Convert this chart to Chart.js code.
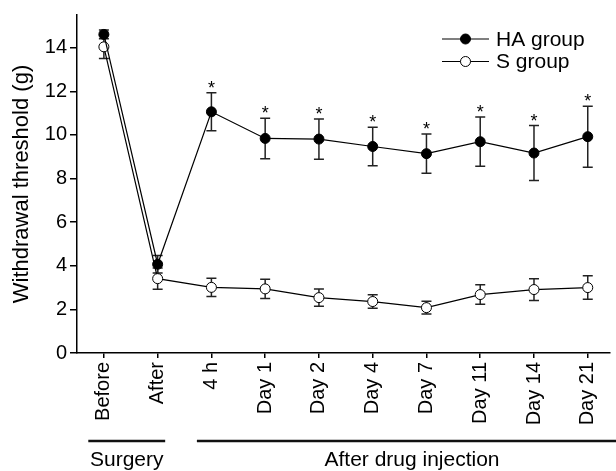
<!DOCTYPE html>
<html>
<head>
<meta charset="utf-8">
<script src="https://cdn.jsdelivr.net/npm/chart.js@4.4.1/dist/chart.umd.min.js"></script>
<style>
  html, body { margin: 0; padding: 0; background: #ffffff; }
  #wrap { width: 616px; height: 471px; }
</style>
</head>
<body>
<div id="wrap"><canvas id="c" width="616" height="471"></canvas></div>
<script>
const categories = ['Before', 'After', '4 h', 'Day 1', 'Day 2', 'Day 4', 'Day 7', 'Day 11', 'Day 14', 'Day 21'];
const haMean = [14.61, 4.07, 11.06, 9.84, 9.81, 9.47, 9.14, 9.69, 9.17, 9.92];
const haErr  = [0.20, 0.40, 0.87, 0.93, 0.92, 0.88, 0.90, 1.13, 1.26, 1.40];
const sMean  = [14.04, 3.41, 3.01, 2.94, 2.54, 2.36, 2.08, 2.68, 2.91, 3.00];
const sErr   = [0.53, 0.49, 0.42, 0.44, 0.40, 0.31, 0.29, 0.45, 0.50, 0.54];
const haSig  = [false, false, true, true, true, true, true, true, true, true];
const yTicks = [0, 2, 4, 6, 8, 10, 12, 14];
const groupNames = ['Surgery', 'After drug injection'];
const groupFrom = [-0.29, 1.73];
const groupTo = [1.14, 9.6];

const FONT = "'Liberation Sans', Arial, Helvetica, sans-serif";

const errBarPlugin = {
  id: 'errBars',
  beforeDatasetsDraw(chart) {
    const ctx = chart.ctx, xs = chart.scales.x, ys = chart.scales.y;
    const sets = [[haMean, haErr], [sMean, sErr]];
    ctx.save();
    ctx.strokeStyle = '#222';
    ctx.lineWidth = 1.5;
    sets.forEach(([m, e]) => {
      m.forEach((v, i) => {
        const x = xs.getPixelForValue(i);
        const yt = ys.getPixelForValue(v + e[i]);
        const yb = ys.getPixelForValue(v - e[i]);
        ctx.beginPath();
        ctx.moveTo(x, yt); ctx.lineTo(x, yb);
        ctx.moveTo(x - 5, yt); ctx.lineTo(x + 5, yt);
        ctx.moveTo(x - 5, yb); ctx.lineTo(x + 5, yb);
        ctx.stroke();
      });
    });
    ctx.restore();
  },
  afterDatasetsDraw(chart) {
    const ctx = chart.ctx, xs = chart.scales.x, ys = chart.scales.y;
    ctx.save();
    // significance asterisks
    ctx.fillStyle = '#000';
    ctx.font = '18px ' + FONT;
    ctx.textAlign = 'center';
    ctx.textBaseline = 'alphabetic';
    const mt = ctx.measureText('*');
    const midOff = (mt.actualBoundingBoxAscent - mt.actualBoundingBoxDescent) / 2;
    haSig.forEach((s, i) => {
      if (!s) return;
      const x = xs.getPixelForValue(i);
      const yt = ys.getPixelForValue(haMean[i] + haErr[i]);
      ctx.fillText('*', x, yt - 8.5 + midOff);
    });
    // legend
    const items = chart.data.datasets;
    ctx.font = '21px ' + FONT;
    ctx.textAlign = 'left';
    ctx.textBaseline = 'middle';
    items.forEach((ds, k) => {
      const y = 39 + k * 22.5;
      ctx.strokeStyle = '#000';
      ctx.lineWidth = 1.2;
      ctx.beginPath(); ctx.moveTo(442, y); ctx.lineTo(489, y); ctx.stroke();
      ctx.beginPath(); ctx.arc(465.5, y, ds.pointRadius, 0, Math.PI * 2);
      ctx.fillStyle = ds.pointBackgroundColor; ctx.fill();
      ctx.lineWidth = 1; ctx.stroke();
      ctx.fillStyle = '#000';
      ctx.fillText(ds.label, 496, y + 1);
    });
    ctx.restore();
  },
  afterDraw(chart) {
    const ctx = chart.ctx, xs = chart.scales.x;
    ctx.save();
    ctx.strokeStyle = '#111';
    ctx.fillStyle = '#000';
    ctx.lineWidth = 2.5;
    ctx.font = '21px ' + FONT;
    ctx.textAlign = 'center';
    ctx.textBaseline = 'middle';
    groupNames.forEach((g, k) => {
      const x1 = xs.getPixelForValue(groupFrom[k]);
      const x2 = Math.min(xs.getPixelForValue(groupTo[k]), chart.width);
      ctx.beginPath(); ctx.moveTo(x1, 441); ctx.lineTo(x2, 441); ctx.stroke();
    });
    ctx.fillText(groupNames[0], (xs.getPixelForValue(groupFrom[0]) + xs.getPixelForValue(groupTo[0])) / 2, 460);
    ctx.fillText(groupNames[1], 412, 460);
    ctx.restore();
  }
};

new Chart(document.getElementById('c'), {
  type: 'line',
  data: {
    datasets: [
      {
        label: 'HA group',
        data: haMean.map((v, i) => ({ x: i, y: v })),
        borderColor: '#000', borderWidth: 1.2,
        pointRadius: 5, pointBackgroundColor: '#000', pointBorderColor: '#000', pointBorderWidth: 1,
        tension: 0
      },
      {
        label: 'S group',
        data: sMean.map((v, i) => ({ x: i, y: v })),
        borderColor: '#000', borderWidth: 1.2,
        pointRadius: 5, pointBackgroundColor: '#fff', pointBorderColor: '#000', pointBorderWidth: 1,
        tension: 0
      }
    ]
  },
  options: {
    responsive: false,
    animation: false,
    events: [],
    layout: { padding: { left: 0, right: 0, top: 13, bottom: 0 } },
    plugins: { legend: { display: false }, tooltip: { enabled: false } },
    scales: {
      x: {
        type: 'linear',
        min: -0.5,
        max: 9.41,
        afterBuildTicks(scale) { scale.ticks = categories.map((_, i) => ({ value: i })); },
        afterFit(scale) { scale.height = 118; },
        ticks: {
          autoSkip: false,
          minRotation: 90, maxRotation: 90,
          color: '#000',
          padding: 4,
          font: { size: 20, family: FONT },
          callback: (v) => categories[v]
        },
        grid: { drawOnChartArea: false, drawTicks: true, tickLength: 5, color: '#000', lineWidth: 1.5 },
        border: { display: true, color: '#000', width: 1.5 }
      },
      y: {
        min: 0,
        max: 15.5,
        afterBuildTicks(scale) { scale.ticks = yTicks.map(v => ({ value: v })); },
        afterFit(scale) { scale.width = 77; },
        ticks: { color: '#000', padding: 3, font: { size: 20, family: FONT } },
        grid: { drawOnChartArea: false, drawTicks: true, tickLength: 7, color: '#000', lineWidth: 1.5 },
        border: { display: true, color: '#000', width: 1.5 },
        title: {
          display: true,
          text: 'Withdrawal threshold (g)',
          color: '#000',
          font: { size: 22, family: FONT },
          padding: { top: 9, bottom: 0 }
        }
      }
    }
  },
  plugins: [errBarPlugin]
});
</script>
</body>
</html>
